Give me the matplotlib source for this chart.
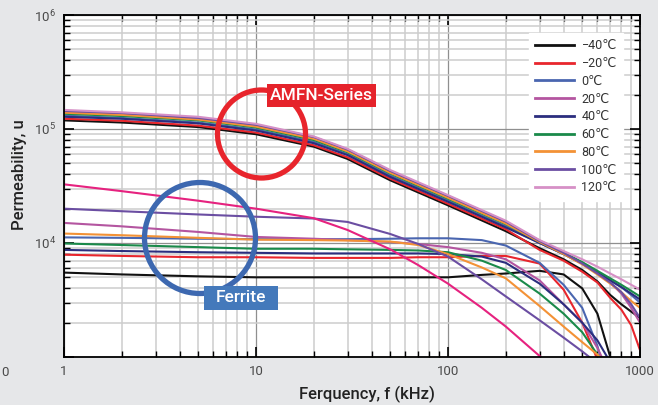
import numpy as np
import matplotlib
matplotlib.use('Agg')
import matplotlib.pyplot as plt
from matplotlib.patches import Ellipse, Rectangle
from matplotlib.ticker import LogLocator, NullFormatter, FixedLocator, FixedFormatter

plt.rcParams['font.family'] = ['Roboto', 'DejaVu Sans']
plt.rcParams['mathtext.fontset'] = 'custom'
plt.rcParams['mathtext.rm'] = 'Roboto'
plt.rcParams['mathtext.it'] = 'Roboto:italic'
plt.rcParams['mathtext.bf'] = 'Roboto:bold'

# ---------------- data ----------------
temps = ['−40℃', '−20℃', '0℃', '20℃', '40℃', '60℃', '80℃', '100℃', '120℃']
colors = ['#111111', '#e8262d', '#4a66b0', '#b455a0', '#2b2e7e',
          '#1a8a4a', '#f39236', '#6b4ea2', '#d690c6']
ferrite_hot_color = '#e6227f'

amfn_freq = [1, 2, 5, 10, 20, 30, 50, 100, 200, 300, 400, 500, 600, 700, 800, 900, 1000]
amfn_m40 = [1.19e5, 1.14e5, 1.04e5, 9.0e4, 7.0e4, 5.46e4, 3.55e4, 2.14e4, 1.27e4,
            9.0e3, 7.2e3, 5.8e3, 4.6e3, 3.5e3, 2.9e3, 2.5e3, 2.2e3]
amfn_m20 = [1.23e5, 1.18e5, 1.07e5, 9.3e4, 7.2e4, 5.64e4, 3.67e4, 2.21e4, 1.32e4,
            8.7e3, 7.0e3, 5.6e3, 4.5e3, 3.3e3, 2.6e3, 1.9e3, 1.15e3]
amfn_0 = [1.31e5, 1.25e5, 1.14e5, 9.9e4, 7.7e4, 6.0e4, 3.9e4, 2.35e4, 1.4e4,
          1.0e4, 8.0e3, 6.6e3, 5.5e3, 4.7e3, 4.1e3, 3.5e3, 3.0e3]
amfn_20 = [1.41e5, 1.35e5, 1.23e5, 1.07e5, 8.3e4, 6.5e4, 4.2e4, 2.54e4, 1.51e4,
           1.05e4, 8.3e3, 6.7e3, 5.5e3, 4.5e3, 3.6e3, 2.7e3, 2.0e3]
amfn_40 = [1.28e5, 1.23e5, 1.12e5, 9.7e4, 7.5e4, 5.9e4, 3.8e4, 2.3e4, 1.37e4,
           1.0e4, 8.0e3, 6.6e3, 5.5e3, 4.7e3, 4.1e3, 3.6e3, 3.2e3]
amfn_60 = [1.36e5, 1.30e5, 1.19e5, 1.03e5, 8.0e4, 6.24e4, 4.06e4, 2.44e4, 1.46e4,
           1.03e4, 8.2e3, 6.8e3, 5.7e3, 4.9e3, 4.3e3, 3.8e3, 3.4e3]
amfn_80 = [1.39e5, 1.33e5, 1.21e5, 1.05e5, 8.2e4, 6.36e4, 4.13e4, 2.49e4, 1.48e4,
           1.02e4, 8.0e3, 6.5e3, 5.3e3, 4.4e3, 3.7e3, 3.1e3, 2.7e3]
amfn_100 = [1.44e5, 1.38e5, 1.25e5, 1.09e5, 8.5e4, 6.6e4, 4.29e4, 2.59e4, 1.54e4,
            1.04e4, 8.2e3, 6.6e3, 5.4e3, 4.5e3, 3.7e3, 2.9e3, 2.2e3]
amfn_120 = [1.47e5, 1.40e5, 1.28e5, 1.11e5, 8.6e4, 6.7e4, 4.37e4, 2.63e4, 1.57e4,
            1.06e4, 8.5e3, 7.2e3, 6.2e3, 5.4e3, 4.8e3, 4.3e3, 3.9e3]

nan = float('nan')
fer_freq = [1, 2, 5, 10, 20, 30, 50, 70, 100, 150, 200, 300, 400, 500, 600, 700, 800]
fer_m40 = [5.5e3, 5.3e3, 5.1e3, 5.0e3, 5.0e3, 5.0e3, 5.0e3, 5.0e3, 5.0e3, 5.25e3, 5.4e3,
           5.7e3, 5.3e3, 4.0e3, 2.4e3, 1.0e3, 5e2]
fer_m20 = [7.9e3, 7.7e3, 7.5e3, 7.5e3, 7.4e3, 7.4e3, 7.4e3, 7.5e3, 7.5e3, 7.7e3, 7.7e3,
           6.6e3, 3.9e3, 2.0e3, 9.5e2, nan, nan]
fer_0 = [1.12e4, 1.11e4, 1.09e4, 1.08e4, 1.08e4, 1.08e4, 1.09e4, 1.1e4, 1.1e4, 1.06e4, 9.5e3,
         6.7e3, 4.3e3, 2.7e3, 1.25e3, 5e2, nan]
fer_20 = [1.5e4, 1.4e4, 1.25e4, 1.13e4, 1.09e4, 1.06e4, 1.02e4, 9.8e3, 9.2e3, 8.2e3, 7.2e3,
          4.7e3, 2.9e3, 2.0e3, 1.2e3, 7e2, nan]
fer_40 = [8.7e3, 8.5e3, 8.3e3, 8.2e3, 8.1e3, 8.1e3, 8.1e3, 8.1e3, 8.0e3, 7.6e3, 6.7e3,
          4.4e3, 2.9e3, 2.0e3, 1.4e3, 9e2, nan]
fer_60 = [9.9e3, 9.6e3, 9.2e3, 8.9e3, 8.9e3, 8.8e3, 8.7e3, 8.6e3, 8.3e3, 7.0e3, 5.8e3,
          3.6e3, 2.4e3, 1.65e3, 1.05e3, 7e2, nan]
fer_80 = [1.21e4, 1.17e4, 1.11e4, 1.07e4, 1.06e4, 1.05e4, 1.03e4, 9.6e3, 8.0e3, 6.1e3, 4.9e3,
          2.8e3, 1.85e3, 1.35e3, 1.05e3, 8e2, nan]
fer_100 = [2.0e4, 1.9e4, 1.78e4, 1.7e4, 1.64e4, 1.53e4, 1.2e4, 9.8e3, 7.6e3, 4.8e3, 3.4e3,
           2.1e3, 1.48e3, 1.12e3, 8.8e2, nan, nan]
fer_120 = [3.27e4, 2.85e4, 2.35e4, 2.0e4, 1.65e4, 1.3e4, 8.8e3, 6.4e3, 4.4e3, 2.7e3, 1.85e3,
           1.02e3, 6.5e2, nan, nan, nan, nan]

xtick_vals = [1, 10, 100, 1000]
xtick_labels = ['1', '10', '100', '1000']
ytick_vals = [1e3, 1e4, 1e5, 1e6]
ytick_labels = ['', r'$10^4$', r'$10^5$', r'$10^6$']

amfn_series = [amfn_m40, amfn_m20, amfn_0, amfn_20, amfn_40, amfn_60, amfn_80, amfn_100, amfn_120]
fer_series = [fer_m40, fer_m20, fer_0, fer_20, fer_40, fer_60, fer_80, fer_100, fer_120]

# ---------------- figure ----------------
W, H = 658, 405
fig = plt.figure(figsize=(W / 100, H / 100), dpi=100, facecolor='#e6e7e9')
ax = fig.add_axes([64 / W, 1 - 357 / H, (640 - 64) / W, (357 - 15) / H])
ax.set_facecolor('white')
ax.set_xscale('log')
ax.set_yscale('log')
ax.set_xlim(1, 1000)
ax.set_ylim(1e3, 1e6)

ax.set_axisbelow(True)
ax.grid(which='minor', color='#cdcdcd', lw=1.1)
ax.grid(which='major', color='#8f8f8f', lw=0.9)

# ferrite curves
fer_colors = colors[:8] + [ferrite_hot_color]
for vals, c in zip(fer_series, fer_colors):
    ax.plot(fer_freq, vals, color=c, lw=1.5, solid_capstyle='butt')

# AMFN curves
for vals, c, lab in zip(amfn_series, colors, temps):
    ax.plot(amfn_freq, vals, color=c, lw=1.5, label=lab)

ax.xaxis.set_major_locator(FixedLocator(xtick_vals))
ax.xaxis.set_major_formatter(FixedFormatter(xtick_labels))
ax.yaxis.set_major_locator(FixedLocator(ytick_vals))
ax.yaxis.set_major_formatter(FixedFormatter(ytick_labels))
ax.xaxis.set_minor_locator(LogLocator(base=10, subs=np.arange(2, 10), numticks=20))
ax.yaxis.set_minor_locator(LogLocator(base=10, subs=np.arange(2, 10), numticks=20))
ax.xaxis.set_minor_formatter(NullFormatter())
ax.yaxis.set_minor_formatter(NullFormatter())
ax.tick_params(which='both', direction='in', top=True, right=True, color='black',
               labelcolor='#4a4a4a', labelsize=9.5)
ax.tick_params(which='major', length=7, width=1.2, pad=6)
ax.tick_params(which='minor', length=4, width=1.0)
for s in ax.spines.values():
    s.set_color('black')
    s.set_linewidth(1.3)

ax.set_xlabel('Ferquency, f (kHz)', fontsize=12, fontweight='medium', color='#222222')
ax.set_ylabel('Permeability, u', fontsize=12, fontweight='medium', color='#222222')
ax.xaxis.set_label_coords((367 - 64) / 576, -(386 - 357) / 342)
ax.yaxis.set_label_coords(-(64 - 27) / 576, (357 - 175) / 342)

leg = ax.legend(loc='upper right', bbox_to_anchor=((623 - 64) / 576, 1 - (33 - 15) / 342),
                borderaxespad=0, frameon=True, fancybox=False, framealpha=1,
                edgecolor='white', facecolor='white', fontsize=9, labelspacing=0.38,
                handlelength=3.1, handletextpad=0.6, borderpad=0.5)
for t in leg.get_texts():
    t.set_color('#333333')
for l in leg.get_lines():
    l.set_linewidth(2.0)

# annotations (pixel geometry in figure coords)
def fx(px):
    return px / W

def fy(py):
    return 1 - py / H

red_c = Ellipse((fx(261.5), fy(134)), 2 * 44 / W, 2 * 44 / H, transform=fig.transFigure,
                fill=False, edgecolor='#e8252c', lw=3.8, zorder=5)
blue_c = Ellipse((fx(200), fy(238)), 2 * 55.5 / W, 2 * 55.5 / H, transform=fig.transFigure,
                 fill=False, edgecolor='#3d68b0', lw=3.8, zorder=5)
fig.add_artist(red_c)
fig.add_artist(blue_c)

red_box = Rectangle((fx(267), fy(107)), 109 / W, 23 / H, transform=fig.transFigure,
                    facecolor='#e5232b', edgecolor='none', zorder=6)
blue_box = Rectangle((fx(204), fy(310)), 74 / W, 24 / H, transform=fig.transFigure,
                     facecolor='#4479bb', edgecolor='none', zorder=6)
fig.add_artist(red_box)
fig.add_artist(blue_box)
fig.text(fx(321.5), fy(96), 'AMFN-Series', color='white', fontsize=12.5, fontweight='medium',
         ha='center', va='center', zorder=7)
fig.text(fx(241), fy(298), 'Ferrite', color='white', fontsize=12.5, fontweight='medium',
         ha='center', va='center', zorder=7)

fig.text(1 / W, fy(372), '0', color='#4a4a4a', fontsize=9.5, ha='left', va='center')

fig.savefig('out.png', dpi=100, facecolor=fig.get_facecolor())
